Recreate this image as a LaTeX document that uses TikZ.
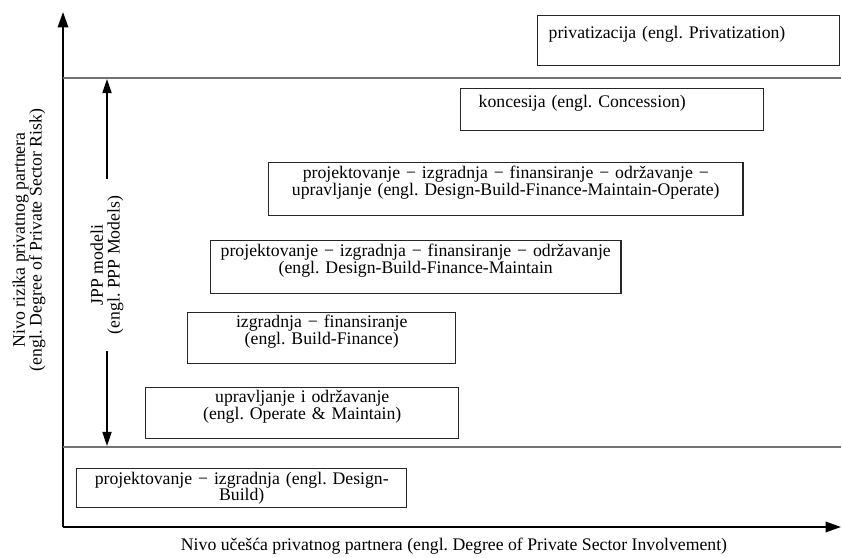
\documentclass[tikz,border=0pt]{standalone}
\usepackage{fontspec}
\setmainfont{Liberation Serif}
\usepackage{tikz}
\usetikzlibrary{arrows.meta,positioning}
\frenchspacing

\tikzset{
  model/.style={draw=black!85, line width=1pt, anchor=north west, inner sep=0pt, align=center},
  level/.style={draw=black!55, line width=1pt},
  axis/.style={line width=1.2pt, -{Triangle[length=11pt,width=7.5pt]}},
  span/.style={line width=1pt, -{Triangle[length=10pt,width=6.5pt]}},
}

\begin{document}
\begin{tikzpicture}[x=0.025cm, y=-0.025cm, font=\fontsize{12.6}{12}\selectfont]
  \useasboundingbox (0,0) rectangle (842,558);

  \coordinate (o) at (63,527);
  \coordinate (ytip) at (63,12);
  \coordinate (xtip) at (841,527);
  \coordinate (hi) at (63,78);
  \coordinate (lo) at (63,447);
  \draw [axis] (o) -- (ytip);
  \draw [axis] (o) -- (xtip);
  \draw [level] (hi) -- (hi -| xtip);
  \draw [level] (lo) -- (lo -| xtip);

  \node [rotate=90, align=center] (ylab) at (29,240)
    {Nivo rizika privatnog partnera\\(engl. Degree of Private Sector Risk)};
  \node (xlab) at (454,546)
    {Nivo učešća privatnog partnera (engl. Degree of Private Sector Involvement)};

  \node [rotate=90, align=center, inner xsep=12pt] (jpp) at (107,265)
    {JPP modeli\\(engl. PPP Models)};
  \coordinate (jtop) at (107,79);
  \coordinate (jbot) at (107,446);
  \draw [span] (jpp.east) -- (jtop);
  \draw [span] (jpp.west) -- (jbot);

  \node [model, align=left, inner xsep=0.275cm, text width=7cm, minimum height=1.25cm] (priv) at (537,15)
    {privatizacija (engl. Privatization)\\ ~};
  \node [model, align=left, inner xsep=0.45cm, text width=6.675cm, minimum height=1.05cm] (konc) at (460,88)
    {koncesija (engl. Concession)\\ ~};
  \node [model, text width=11.85cm, minimum height=1.325cm] (dbfmo) at (268,162)
    {projektovanje − izgradnja − finansiranje − održavanje −\\upravljanje (engl. Design-Build-Finance-Maintain-Operate)\\ ~};
  \node [model, text width=10.25cm, minimum height=1.325cm] (dbfm) at (210,240)
    {projektovanje − izgradnja − finansiranje − održavanje\\(engl. Design-Build-Finance-Maintain\\ ~};
  \node [model, text width=6.7cm, minimum height=1.275cm] (bf) at (187,312)
    {izgradnja − finansiranje\\(engl. Build-Finance)\\ ~};
  \node [model, text width=7.825cm, minimum height=1.275cm] (om) at (145,387)
    {upravljanje i održavanje\\(engl. Operate \& Maintain)\\ ~};
  \node [model, text width=8.25cm, minimum height=0.975cm] (db) at (76,468)
    {projektovanje − izgradnja (engl. Design-\\Build)};
\end{tikzpicture}
\end{document}
